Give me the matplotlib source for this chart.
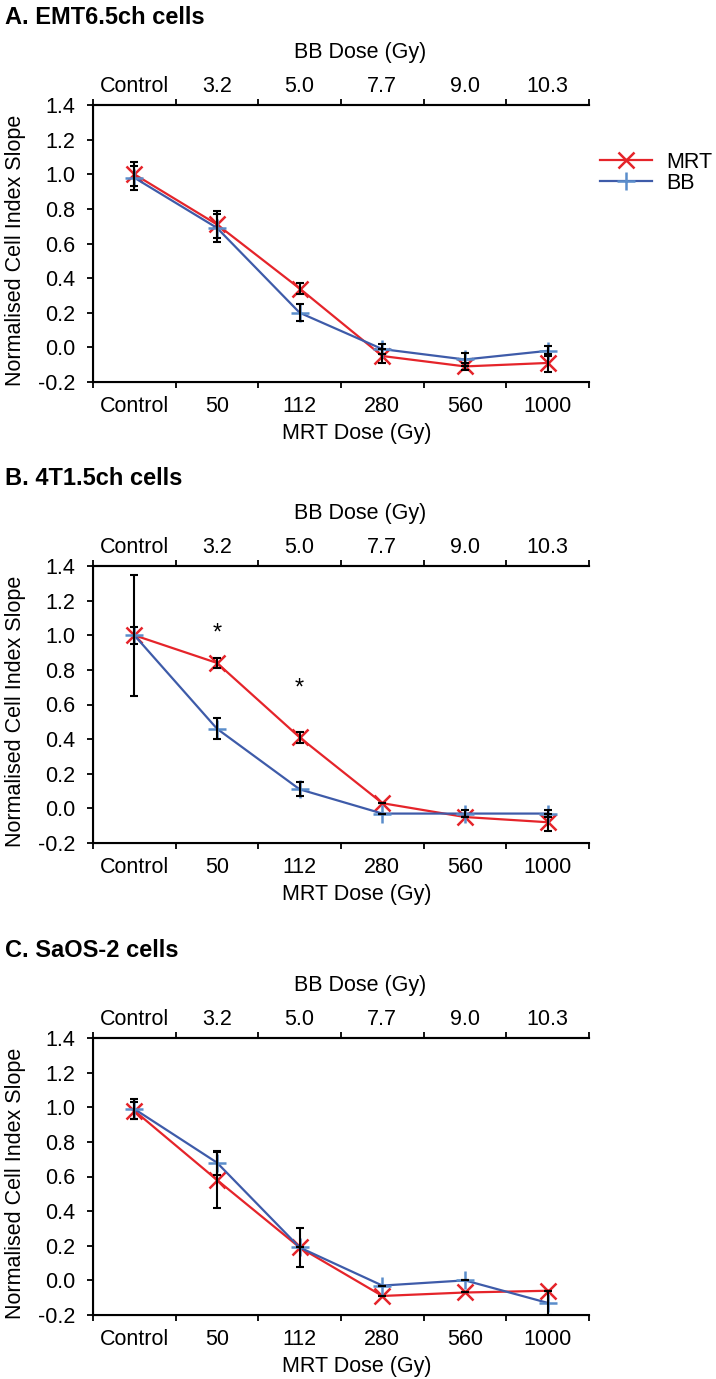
import matplotlib
matplotlib.use("Agg")
import matplotlib.pyplot as plt
import numpy as np

plt.rcParams['font.family'] = ['Liberation Sans', 'DejaVu Sans']

mrt_labels = ["Control", "50", "112", "280", "560", "1000"]
bb_labels = ["Control", "3.2", "5.0", "7.7", "9.0", "10.3"]
yticks = [-0.2, 0.0, 0.2, 0.4, 0.6, 0.8, 1.0, 1.2, 1.4]

titles = ["A. EMT6.5ch cells", "B. 4T1.5ch cells", "C. SaOS-2 cells"]

mrt_A = [1.00, 0.71, 0.34, -0.05, -0.11, -0.09]
mrt_A_err = [0.07, 0.08, 0.03, 0.04, 0.02, 0.05]
bb_A = [0.98, 0.69, 0.20, -0.01, -0.07, -0.02]
bb_A_err = [0.07, 0.08, 0.05, 0.03, 0.04, 0.03]

mrt_B = [1.00, 0.84, 0.41, 0.03, -0.05, -0.08]
mrt_B_err = [0.05, 0.03, 0.03, 0.0, 0.0, 0.05]
bb_B = [1.00, 0.46, 0.11, -0.03, -0.03, -0.03]
bb_B_err = [0.35, 0.06, 0.04, 0.0, 0.02, 0.02]

mrt_C = [0.98, 0.58, 0.19, -0.09, -0.07, -0.06]
mrt_C_err = [0.05, 0.16, 0.115, 0.0, 0.0, 0.0]
bb_C = [0.99, 0.68, 0.19, -0.03, 0.00, -0.13]
bb_C_err = [0.06, 0.07, 0.0, 0.0, 0.0, 0.07]

star_B_x = [1, 2]
star_B_y = [1.01, 0.69]

panels = [
    (mrt_A, mrt_A_err, bb_A, bb_A_err, [], []),
    (mrt_B, mrt_B_err, bb_B, bb_B_err, star_B_x, star_B_y),
    (mrt_C, mrt_C_err, bb_C, bb_C_err, [], []),
]

RED = "#E5242A"
BLUE = "#3E5BA9"
BLUE_M = "#5A8DCB"
FS = 15.5

fig = plt.figure(figsize=(7.16, 13.79), dpi=100)
W, H = 716, 1379
ax_left, ax_right = 93, 589
tops = [105, 566, 1038]
bottoms = [382, 843, 1315]
title_base = [24, 485, 957]
AXH = 277.0

for i, (mrt, mrt_err, bb, bb_err, sx, sy) in enumerate(panels):
    ax = fig.add_axes([ax_left / W, 1 - bottoms[i] / H,
                       (ax_right - ax_left) / W, (bottoms[i] - tops[i]) / H])
    x = np.arange(len(mrt_labels))
    ax.errorbar(x, bb, yerr=bb_err, fmt='none', ecolor='black', elinewidth=1.5,
                capsize=3, capthick=1.5, zorder=4)
    ax.errorbar(x, mrt, yerr=mrt_err, fmt='none', ecolor='black', elinewidth=1.5,
                capsize=3, capthick=1.5, zorder=4)
    ax.plot(x, mrt, color=RED, lw=1.6, marker='x', ms=12, mew=1.8,
            mec=RED, label='MRT', zorder=3)
    ax.plot(x, bb, color=BLUE, lw=1.6, marker='+', ms=13, mew=1.8,
            mec=BLUE_M, label='BB', zorder=3)
    for xx, yy in zip(sx, sy):
        ax.text(xx, yy, "*", ha='center', va='center', fontsize=17)

    ax.set_xlim(-0.5, 5.5)
    ax.set_ylim(-0.2, 1.4)
    ax.set_yticks(yticks)
    ax.set_yticklabels(["%.1f" % v for v in yticks], fontsize=FS)
    ax.set_xticks(np.arange(-0.5, 6.0, 1.0))
    ax.set_xticklabels([])
    ax.set_xticks(x, minor=True)
    ax.set_xticklabels(mrt_labels, minor=True, fontsize=FS)
    ax.tick_params(axis='x', which='minor', length=0, pad=10.3)
    ax.tick_params(axis='x', which='major', length=4.3, width=1.3, direction='out')
    ax.tick_params(axis='y', length=4.3, width=1.3, direction='out', pad=8.6)
    ax.spines['right'].set_visible(False)
    for s in ['left', 'bottom', 'top']:
        ax.spines[s].set_linewidth(1.5)
    ax.text((357 - ax_left) / (ax_right - ax_left), -57 / AXH, "MRT Dose (Gy)",
            transform=ax.transAxes, ha='center', va='baseline', fontsize=FS)
    ax.text((360 - ax_left) / (ax_right - ax_left), 1 + 47 / AXH, "BB Dose (Gy)",
            transform=ax.transAxes, ha='center', va='baseline', fontsize=FS)
    fig.text(16 / W, 1 - (tops[i] + 145.5) / H, "Normalised Cell Index Slope",
             rotation=90, ha='center', va='center', fontsize=FS)

    ax2 = ax.twiny()
    ax2.set_xlim(-0.5, 5.5)
    ax2.set_xticks(np.arange(-0.5, 6.0, 1.0))
    ax2.set_xticklabels([])
    ax2.set_xticks(x, minor=True)
    ax2.set_xticklabels(bb_labels, minor=True, fontsize=FS)
    ax2.tick_params(axis='x', which='minor', length=0, pad=6.1)
    ax2.tick_params(axis='x', which='major', length=4.3, width=1.3, direction='out')
    ax2.spines['right'].set_visible(False)
    ax2.spines['top'].set_linewidth(1.5)

    fig.text(5 / W, 1 - title_base[i] / H, titles[i], fontsize=17, fontweight='bold',
             ha='left', va='baseline')

    if i == 0:
        ax.legend(loc='upper left', bbox_to_anchor=((600 - ax_left) / 496, (382 - 152) / AXH),
                  frameon=False, fontsize=FS, handlelength=2.4, handletextpad=0.7,
                  labelspacing=0.0, borderpad=0, borderaxespad=0)

fig.savefig("out.png", dpi=100)
